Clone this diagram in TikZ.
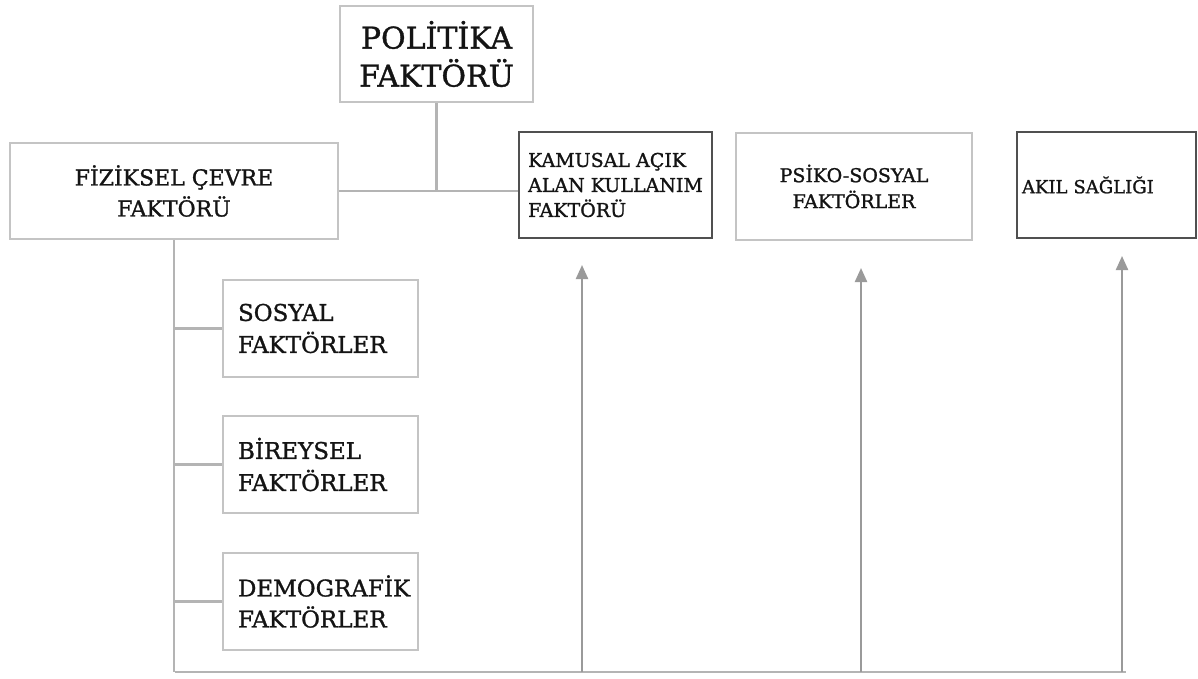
\documentclass[tikz,border=0pt]{standalone}
\usepackage{fontspec}
\setmainfont{DejaVu Serif}[FakeBold=1.2]
\usetikzlibrary{arrows.meta}
\definecolor{boxgray}{HTML}{C4C4C4}
\definecolor{boxdark}{HTML}{505050}
\definecolor{linegray}{HTML}{B4B4B4}
\definecolor{arrowgray}{HTML}{9A9A9A}
\definecolor{txt}{HTML}{141414}
\begin{document}
\begin{tikzpicture}[x=1pt,y=-1pt,
  lightbox/.style={draw=boxgray, line width=2.2pt, rectangle, text=txt, inner sep=0pt},
  darkbox/.style={lightbox, draw=boxdark},
  conn/.style={draw=linegray, line width=2.2pt},
  arr/.style={draw=arrowgray, line width=2.2pt, -{Triangle[width=12pt,length=14pt]}}
]
\useasboundingbox[fill=white] (0,0) rectangle (1198,679);

\node[lightbox, minimum width=193pt, minimum height=96pt, align=center,
  font=\fontsize{30}{38}\selectfont] (pol) at (436.5,54) {POLİTİKA\\FAKTÖRÜ};
\node[lightbox, minimum width=328pt, minimum height=96pt, align=center,
  font=\fontsize{22}{31}\selectfont] (fiz) at (174,191) {FİZİKSEL ÇEVRE\\FAKTÖRÜ};
\node[darkbox, minimum width=193pt, minimum height=106pt, align=left,
  font=\fontsize{19}{25}\selectfont] (kam) at (615.5,185) {KAMUSAL AÇIK\\ALAN KULLANIM\\FAKTÖRÜ};
\node[lightbox, minimum width=236pt, minimum height=107pt, align=center,
  font=\fontsize{19}{26}\selectfont] (psi) at (854,186.5) {PSİKO-SOSYAL\\FAKTÖRLER};
\node[darkbox, minimum height=106pt, text width=169pt, inner xsep=5pt, align=left,
  font=\fontsize{18}{24}\selectfont] (akil) at (1106.5,185) {AKIL SAĞLIĞI};

\node[lightbox, minimum height=97pt, text width=165pt, inner xsep=15pt, align=left,
  font=\fontsize{23}{32}\selectfont] (sos) at (320.5,328.5) {SOSYAL\\FAKTÖRLER};
\node[lightbox, minimum height=97pt, text width=165pt, inner xsep=15pt, align=left,
  font=\fontsize{23}{32}\selectfont] (bir) at (320.5,464.5) {BİREYSEL\\FAKTÖRLER};
\node[lightbox, minimum height=97pt, text width=165pt, inner xsep=15pt, align=left,
  font=\fontsize{23}{31}\selectfont] (dem) at (320.5,601.5) {DEMOGRAFİK\\FAKTÖRLER};

\coordinate (bl) at (175,672);
\coordinate (br) at (1126,672);
\coordinate (a1) at (582,265);
\coordinate (a2) at (861,268);
\coordinate (a3) at (1122,256);

% connectors
\draw[conn] (fiz.east) -- (fiz.east -| kam.west);
\draw[conn] (pol.south) -- (pol.south |- fiz.east);
\draw[conn] (fiz.south) -- (fiz.south |- bl);
\draw[conn] (sos.west -| fiz.south) -- (sos.west);
\draw[conn] (bir.west -| fiz.south) -- (bir.west);
\draw[conn] (dem.west -| fiz.south) -- (dem.west);
\draw[conn] (bl) -- (br);
\draw[arr] (a1 |- bl) -- (a1);
\draw[arr] (a2 |- bl) -- (a2);
\draw[arr] (a3 |- bl) -- (a3);
\end{tikzpicture}
\end{document}
